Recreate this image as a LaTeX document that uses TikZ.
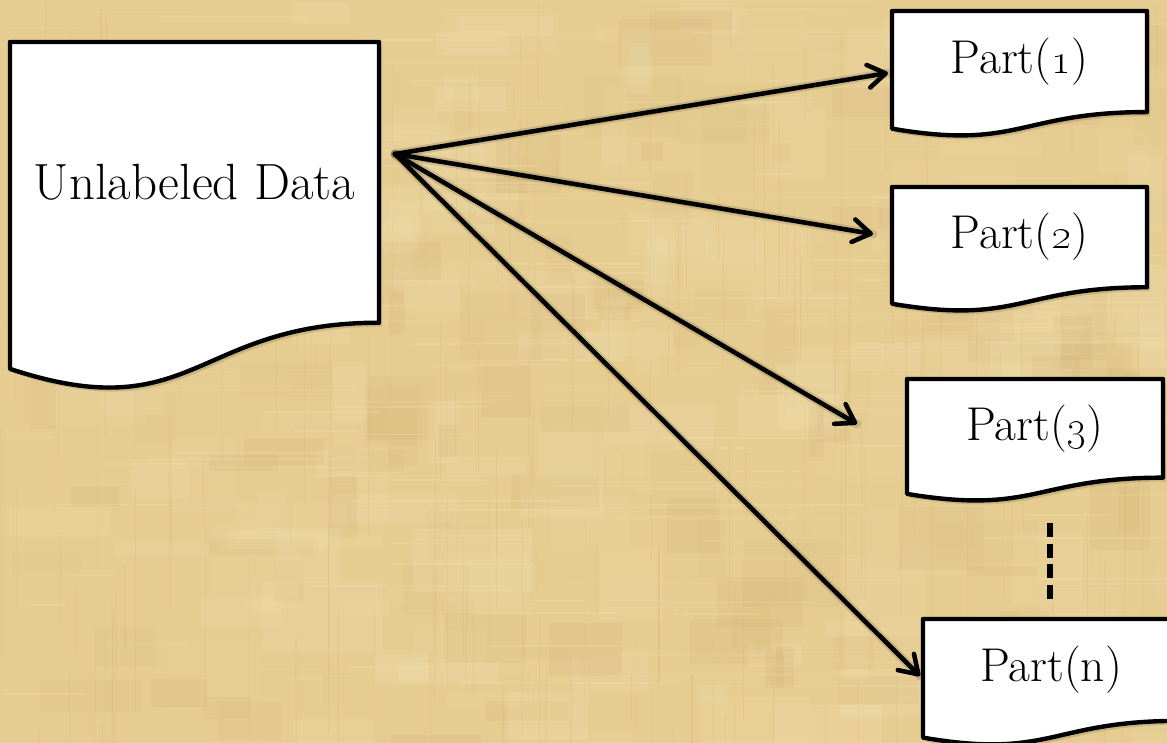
\documentclass[tikz,border=0pt]{standalone}
\usetikzlibrary{arrows.meta,calc}

\definecolor{papyrus}{HTML}{E5CC91}
\definecolor{paplight}{HTML}{F4E3B6}
\definecolor{papdark}{HTML}{C4A263}

\tikzset{
  docline/.style={draw=black, fill=white, line width=2.5pt, line join=round},
  docshadow/.style={fill=black, opacity=0.12},
  doctext/.style={inner sep=0pt, text=black},
  flow/.style={draw=black, line width=2.6pt, line cap=round,
    -{Straight Barb[length=10pt,width=13pt,round]}},
  flowshadow/.style={draw=black, line width=5pt, line cap=round, opacity=0.12},
  ellipsis/.style={draw=black, line width=3pt, dash pattern=on 7.9pt off 3.9pt},
}

% document symbol: flat top, wavy bottom edge
% #1 node name, #2 left, #3 top, #4 width, #5 height, #6 font size, #7 text
\newcommand\docbox[7]{%
  \fill[docshadow, shift={(3,4)}] (#2,#3) -- ({#2+#4},#3) -- ({#2+#4},{#3+0.802*#5})
    .. controls ({#2+0.5*#4},{#3+0.802*#5}) and ({#2+0.5*#4},{#3+1.1075*#5}) .. (#2,{#3+0.934*#5}) -- cycle;
  \path[docline] (#2,#3) -- ({#2+#4},#3) -- ({#2+#4},{#3+0.802*#5})
    .. controls ({#2+0.5*#4},{#3+0.802*#5}) and ({#2+0.5*#4},{#3+1.1075*#5}) .. (#2,{#3+0.934*#5}) -- cycle;
  \node[doctext, font=\fontsize{#6}{#6}\selectfont] (#1) at ({#2+0.5*#4},{#3+0.4*#5}) {#7};
}

\begin{document}
\begin{tikzpicture}[x=0.02cm, y=-0.02cm]
  \useasboundingbox (0,0) rectangle (1167,743);
  \clip (0,0) rectangle (1167,743);

  % papyrus background
  \fill[papyrus] (0,0) rectangle (1167,743);
  \pgfmathsetseed{31}
  \foreach \k in {1,...,170} {
    \pgfmathsetmacro\xa{rnd*1167}
    \pgfmathsetmacro\ya{rnd*743}
    \pgfmathsetmacro\ww{20+rnd*110}
    \pgfmathsetmacro\hh{10+rnd*70}
    \pgfmathsetmacro\oo{0.06+rnd*0.18}
    \fill[paplight, opacity=\oo] (\xa,\ya) rectangle ++(\ww,\hh);
  }
  \foreach \k in {1,...,120} {
    \pgfmathsetmacro\xa{rnd*1167}
    \pgfmathsetmacro\ya{rnd*743}
    \pgfmathsetmacro\ww{15+rnd*90}
    \pgfmathsetmacro\hh{10+rnd*60}
    \pgfmathsetmacro\oo{0.03+rnd*0.10}
    \fill[papdark, opacity=\oo] (\xa,\ya) rectangle ++(\ww,\hh);
  }
  \foreach \k in {1,...,220} {
    \pgfmathsetmacro\xa{rnd*1167}
    \pgfmathsetmacro\ya{rnd*743}
    \pgfmathsetmacro\ll{30+rnd*200}
    \pgfmathsetmacro\oo{0.06+rnd*0.12}
    \draw[papdark, line width=0.6pt, opacity=\oo] (\xa,\ya) -- ++(0,\ll);
    \draw[paplight, line width=0.8pt, opacity=\oo+0.1] (\ya*1.5,\xa*0.6) -- ++(\ll,0);
  }

  % data blocks
  \docbox{data}{10}{42}{369}{350}{29}{Unlabeled Data}
  \docbox{p1}{892}{11}{255}{126}{27}{Part(\oldstylenums{1})}
  \docbox{p2}{892}{187}{255}{125}{27}{Part(\oldstylenums{2})}
  \docbox{p3}{907}{379}{256}{123}{27}{Part(\oldstylenums{3})}
  \docbox{pn}{923}{619}{256}{127}{27}{Part(n)}

  % connector ends
  \coordinate (src) at (395,154);
  \coordinate (t1) at (888,73);
  \coordinate (t2) at (873,234);
  \coordinate (t3) at (857,424);
  \coordinate (tn) at (920,676);
  \coordinate (d1) at (1050,523);
  \coordinate (d2) at (1050,600);

  % arrows with soft shadows
  \foreach \t in {t1,t2,t3,tn} {
    \draw[flowshadow, shift={(3,5)}] (src) -- (\t);
  }
  \foreach \t in {t1,t2,t3,tn} {
    \draw[flow] (src) -- (\t);
  }

  % ellipsis between Part(3) and Part(n)
  \draw[ellipsis] (d1) -- (d2);
\end{tikzpicture}
\end{document}
